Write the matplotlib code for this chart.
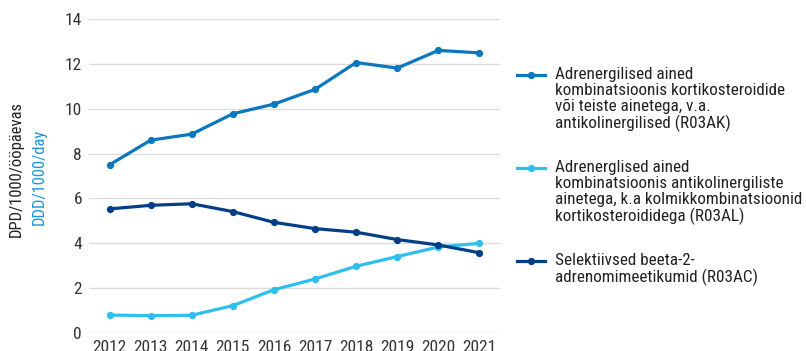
import matplotlib
matplotlib.use('Agg')
import matplotlib.pyplot as plt
from matplotlib.lines import Line2D

plt.rcParams['font.family'] = ['Roboto Condensed', 'Liberation Sans Narrow', 'Roboto', 'DejaVu Sans']

years = [2012, 2013, 2014, 2015, 2016, 2017, 2018, 2019, 2020, 2021]
r03ak = [7.5, 8.6, 8.87, 9.78, 10.21, 10.87, 12.07, 11.82, 12.61, 12.5]
r03al = [0.79, 0.76, 0.78, 1.21, 1.92, 2.4, 2.97, 3.4, 3.83, 3.99]
r03ac = [5.53, 5.69, 5.76, 5.41, 4.93, 4.65, 4.49, 4.16, 3.92, 3.57]

labels = [
    'Adrenergilised ained\nkombinatsioonis kortikosteroidide\nvõi teiste ainetega, v.a.\nantikolinergilised (R03AK)',
    'Adrenerglised ained\nkombinatsioonis antikolinergiliste\nainetega, k.a kolmikkombinatsioonid\nkortikosteroididega (R03AL)',
    'Selektiivsed beeta-2-\nadrenomimeetikumid (R03AC)',
]
colors = ['#0a77bf', '#2fbfee', '#033f86']
series = [r03ak, r03al, r03ac]

W, H = 806, 351
fig = plt.figure(figsize=(W / 100, H / 100), dpi=100)
ax = fig.add_axes([89 / W, 1 - 332.7 / H, (500 - 89) / W, (332.7 - 19.3) / H])

for vals, c in zip(series, colors):
    ax.plot(years, vals, color=c, lw=2.3, marker='o', ms=4.2, solid_capstyle='round', zorder=3)

ax.set_xlim(2011.5, 2021.5)
ax.set_ylim(0, 14)
ax.set_yticks(range(0, 15, 2))
ax.set_xticks(years)
ax.grid(axis='y', color='#dcdcdc', lw=1)
ax.set_axisbelow(True)
for s in ax.spines.values():
    s.set_visible(False)
ax.tick_params(length=0, labelsize=12.5, colors='#333333')
ax.tick_params(axis='y', pad=5)
ax.tick_params(axis='x', pad=5)

# two-colour axis title
fig.text(16.5 / W, 1 - 169 / H, 'DPD/1000/ööpäevas', rotation=90, ha='center', va='center',
         fontsize=12, color='#222222')
fig.text(39.5 / W, 1 - 177 / H, 'DDD/1000/day', rotation=90, ha='center', va='center',
         fontsize=12, color='#1d95d6')

# legend drawn by hand so the handle sits on the first text line
entry_y = [75, 168, 261]
for lab, c, y in zip(labels, colors, entry_y):
    fig.add_artist(Line2D([517 / W, 545 / W], [1 - y / H, 1 - y / H], color=c, lw=2.3,
                          transform=fig.transFigure))
    fig.add_artist(Line2D([531 / W], [1 - y / H], color=c, marker='o', ms=4.2,
                          transform=fig.transFigure))
    fig.text(555 / W, 1 - (y - 8) / H, lab, ha='left', va='top', fontsize=12.3,
             color='#222222', linespacing=1.08)

fig.savefig('out.png', dpi=100)
